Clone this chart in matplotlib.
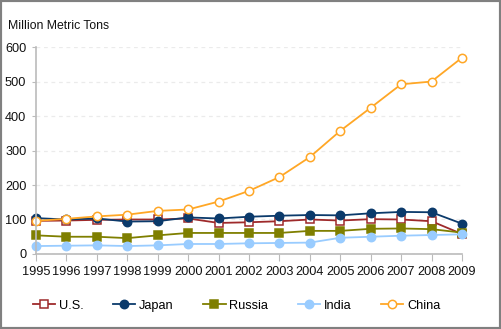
import matplotlib
matplotlib.use("Agg")
import matplotlib.pyplot as plt
from matplotlib.patches import Rectangle

plt.rcParams['font.family'] = ['Liberation Sans', 'DejaVu Sans']

years = list(range(1995, 2010))
us = [96, 97, 99, 100, 100, 103, 90, 92, 95, 100, 97, 101, 100, 95, 58]
japan = [104, 100, 103, 94, 95, 106, 103, 108, 111, 113, 112, 118, 122, 121, 88]
russia = [54, 50, 50, 46, 54, 61, 61, 61, 61, 67, 67, 73, 74, 72, 62]
india = [23, 24, 25, 23, 25, 29, 29, 31, 32, 33, 47, 50, 53, 55, 57]
china = [96, 102, 109, 114, 125, 129, 152, 183, 223, 281, 357, 424, 492, 500, 569]

fig = plt.figure(figsize=(5.01, 3.29), dpi=100)
ax = fig.add_axes([0.072, 0.228, 0.85, 0.629])

# (label, values, colour, marker, face)
series = [
    ("U.S.", us, "#9E2A2B", "s", "white"),
    ("Japan", japan, "#0B3A6B", "o", None),
    ("Russia", russia, "#7F7F00", "s", None),
    ("India", india, "#99CCFF", "o", None),
    ("China", china, "#FFA726", "o", "white"),
]
for label, vals, col, mk, face in series:
    ax.plot(years, vals, color=col, lw=1.3, marker=mk, ms=6,
            markerfacecolor=face if face else col, markeredgecolor=col,
            markeredgewidth=1.1, label=label, clip_on=False)

ax.set_xlim(1995, 2009)
ax.set_ylim(0, 600)
ax.set_xticks(years)
ax.set_yticks(range(0, 601, 100))
ax.tick_params(axis='both', labelsize=9.2, color='#BBBBBB',
               labelcolor='#111111')
ax.tick_params(axis='x', length=5, pad=4)
ax.tick_params(axis='y', length=3, pad=4)
ax.grid(axis='y', color='#EBEBEB', ls=(0, (3, 3)), lw=0.9)
ax.set_axisbelow(True)
for s in ['top', 'right']:
    ax.spines[s].set_visible(False)
for s in ['left', 'bottom']:
    ax.spines[s].set_color('#BBBBBB')
    ax.spines[s].set_linewidth(1.2)

fig.text(0.016, 0.92, "Million Metric Tons", fontsize=8.8, color='#111111',
         va='center')

fig.legend(loc='center', bbox_to_anchor=(0.472, 0.07), ncol=5, frameon=False,
           fontsize=9.2, handlelength=1.75, columnspacing=2.3, handletextpad=0.3)

fig.patches.append(Rectangle((0, 0), 1, 1, transform=fig.transFigure,
                             fill=False, edgecolor='#808080', lw=3))

fig.savefig("out.png", dpi=100)
